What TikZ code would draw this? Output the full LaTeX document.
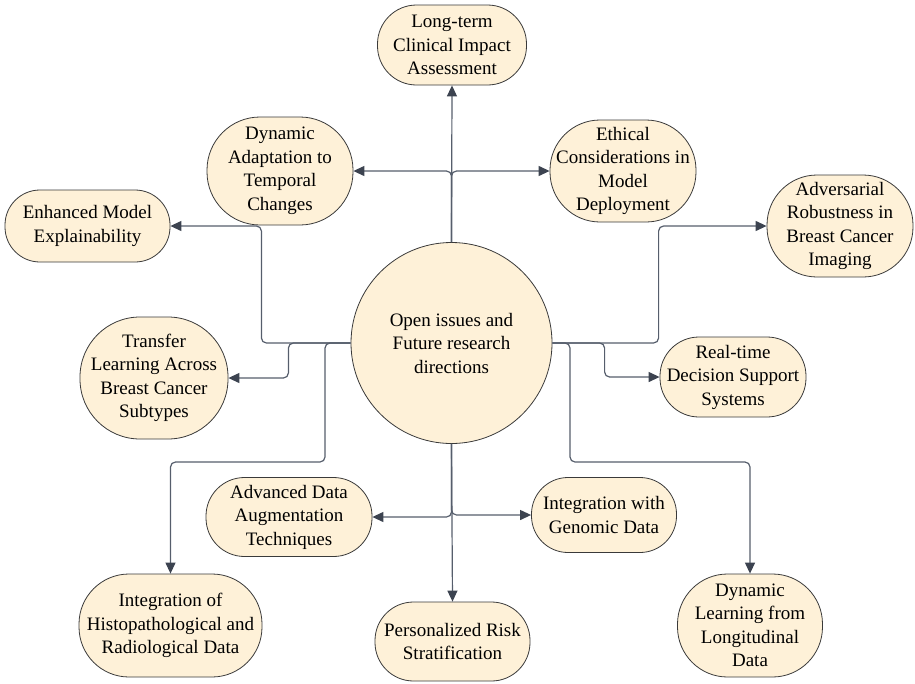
\documentclass[tikz,border=0pt]{standalone}
\usepackage{fontspec}
\setmainfont{Liberation Serif}
\usetikzlibrary{arrows.meta}
\definecolor{bubblefill}{HTML}{FEF1D8}
\definecolor{bubbleline}{HTML}{3A3A3A}
\definecolor{linkcol}{HTML}{565E6C}
\definecolor{tipcol}{HTML}{3C4350}
\tikzset{
  bubble/.style={draw=bubbleline, line width=0.8pt, fill=bubblefill,
    align=center, inner sep=2pt, font=\fontsize{19}{23.5}\selectfont},
  hub/.style={bubble, circle, minimum size=201pt},
  link/.style={draw=linkcol, line width=1.2pt, rounded corners=5pt,
    -{Triangle[length=11pt,width=10pt,color=tipcol]}},
}
\begin{document}
\begin{tikzpicture}[x=1pt,y=-1pt]
\useasboundingbox (0,0) rectangle (915,683);

% central topic
\node[hub] (c) at (451.5,343) {Open issues and\\Future research\\directions};

% surrounding research directions
\node[bubble, minimum width=149pt, minimum height=80pt, rounded corners=39pt] (lt) at (452,45)
  {Long-term\\Clinical Impact\\Assessment};
\node[bubble, minimum width=146pt, minimum height=108pt, rounded corners=53pt] (dyn) at (280,171)
  {Dynamic\\Adaptation to\\Temporal\\Changes};
\node[bubble, minimum width=146pt, minimum height=102pt, rounded corners=50pt] (eth) at (623,171)
  {Ethical\\Considerations in\\Model\\Deployment};
\node[bubble, minimum width=165pt, minimum height=72pt, rounded corners=35pt] (enh) at (87.5,226)
  {Enhanced Model\\Explainability};
\node[bubble, minimum width=146pt, minimum height=102pt, rounded corners=50pt] (adv) at (840,226)
  {Adversarial\\Robustness in\\Breast Cancer\\Imaging};
\node[bubble, minimum width=148pt, minimum height=122pt, rounded corners=60pt] (tr) at (154,378)
  {Transfer\\Learning Across\\Breast Cancer\\Subtypes};
\node[bubble, minimum width=146pt, minimum height=80pt, rounded corners=39pt] (rt) at (733,377)
  {Real-time\\Decision Support\\Systems};
\node[bubble, minimum width=166pt, minimum height=79pt, rounded corners=38.5pt] (aug) at (289,517)
  {Advanced Data\\Augmentation\\Techniques};
\node[bubble, minimum width=145pt, minimum height=75pt, rounded corners=36.5pt] (gen) at (604,515)
  {Integration with\\Genomic Data};
\node[bubble, minimum width=183pt, minimum height=103pt, rounded corners=50pt] (hist) at (170.5,625.5)
  {Integration of\\Histopathological and\\Radiological Data};
\node[bubble, minimum width=155pt, minimum height=79pt, rounded corners=38.5pt] (pers) at (452.5,641.5)
  {Personalized Risk\\Stratification};
\node[bubble, minimum width=145pt, minimum height=103pt, rounded corners=50pt] (dl) at (750,625.5)
  {Dynamic\\Learning from\\Longitudinal\\Data};

% waypoints of the lower elbow connectors
\coordinate (hL) at (325,462);
\coordinate (hR) at (570,462);

% upward links
\draw[link] (c.north) -- (lt.south);
\draw[link] (c.north) |- (dyn.east);
\draw[link] (c.north) |- (eth.west);

% left-hand links
\draw[link] (c.west) -| ([xshift=91pt]enh.east) -- (enh.east);
\draw[link] (c.west) -| ([xshift=60pt]tr.east) -- (tr.east);
\draw[link] (c.west) -| (hL) -| (hist.north);

% right-hand links
\draw[link] (c.east) -| ([xshift=-108pt]adv.west) -- (adv.west);
\draw[link] (c.east) -| ([xshift=-55pt]rt.west) -- (rt.west);
\draw[link] (c.east) -| (hR) -| (dl.north);

% downward links
\draw[link] (c.south) -- (pers.north);
\draw[link] (c.south) |- (aug.east);
\draw[link] (c.south) |- (gen.west);
\end{tikzpicture}
\end{document}
